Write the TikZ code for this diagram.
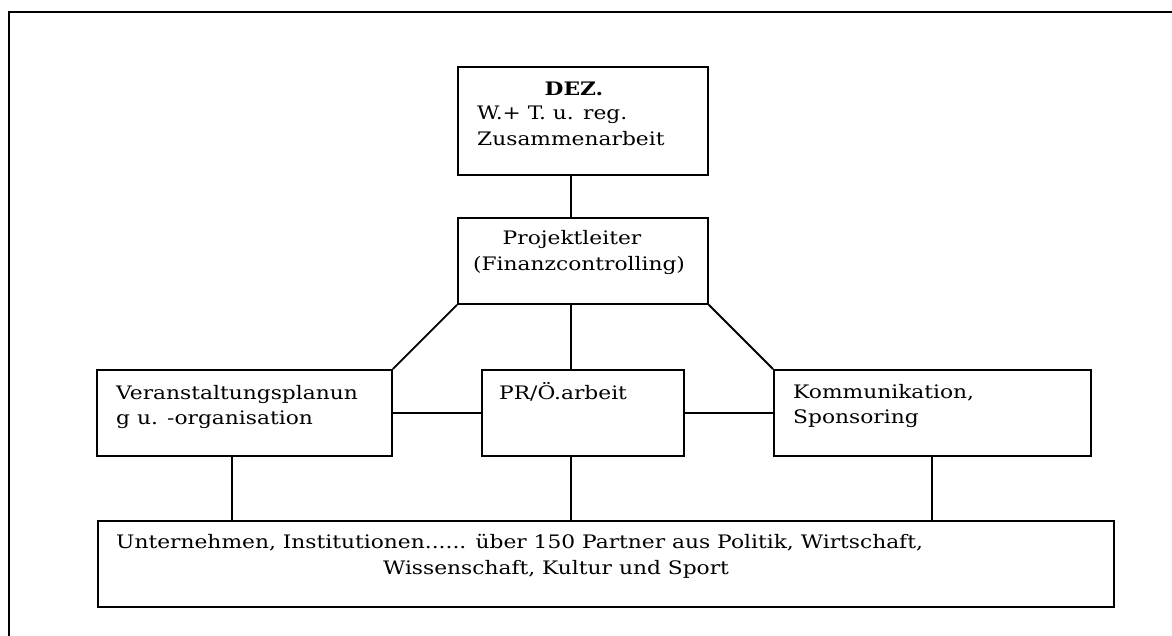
\documentclass[tikz,border=0pt]{standalone}
\usepackage{fontspec}
\setmainfont{DejaVu Serif}[FakeStretch=1.17]
\begin{document}
\begin{tikzpicture}[x=1pt,y=-1pt,
  box/.style={draw=black,line width=1.8pt,rectangle,inner sep=0pt,anchor=north west},
  lbl/.style={anchor=base west,inner sep=0pt,font=\fontsize{18.6}{22}\selectfont},
  lblc/.style={anchor=base,inner sep=0pt,font=\fontsize{18.6}{22}\selectfont},
  conn/.style={line width=1.8pt}]
\useasboundingbox (0,0) rectangle (1172,636);
% outer frame (partly visible)
\draw[line width=2.4pt] (9,636) -- (9,12) -- (1172,12);
% boxes
\node[box,minimum width=250pt,minimum height=108pt] (dez) at (457,66) {};
\node[box,minimum width=250pt,minimum height=86pt] (pl) at (457,217) {};
\node[box,minimum width=295pt,minimum height=86pt] (ver) at (96,369) {};
\node[box,minimum width=202pt,minimum height=86pt] (pr) at (481,369) {};
\node[box,minimum width=317pt,minimum height=86pt] (kom) at (773,369) {};
\node[box,minimum width=1016pt,minimum height=86pt] (bot) at (97,520) {};
% texts
\node[lblc,font=\fontsize{18.6}{22}\selectfont\bfseries] (t1) at (574,96) {DEZ.};
\node[lbl] (t2) at (477,120) {W.+ T. u. reg.};
\node[lbl] (t3) at (477,146) {Zusammenarbeit};
\node[lblc] (t4) at (572,245) {Projektleiter};
\node[lblc] (t5) at (579,271) {(Finanzcontrolling)};
\node[lbl] (t6) at (116,399) {Veranstaltungsplanun};
\node[lbl] (t7) at (116,424) {g u. -organisation};
\node[lbl] (t8) at (499,399) {PR/Ö.arbeit};
\node[lbl] (t9) at (793,398) {Kommunikation,};
\node[lbl] (t10) at (793,423) {Sponsoring};
\node[lbl] (t11) at (116,548) {Unternehmen, Institutionen...... über 150 Partner aus Politik, Wirtschaft,};
\node[lblc] (t12) at (556,574) {Wissenschaft, Kultur und Sport};
% connector x positions
\coordinate (mx) at (571,0);
\coordinate (lx) at (232,0);
\coordinate (rx) at (932,0);
% connectors
\draw[conn] (mx |- dez.south) -- (mx |- pl.north);
\draw[conn] (mx |- pl.south) -- (mx |- pr.north);
\draw[conn] (pl.south west) -- (ver.north east);
\draw[conn] (pl.south east) -- (kom.north west);
\draw[conn] (ver.east) -- (pr.west);
\draw[conn] (pr.east) -- (kom.west);
\draw[conn] (lx |- ver.south) -- (lx |- bot.north);
\draw[conn] (mx |- pr.south) -- (mx |- bot.north);
\draw[conn] (rx |- kom.south) -- (rx |- bot.north);
\end{tikzpicture}
\end{document}
